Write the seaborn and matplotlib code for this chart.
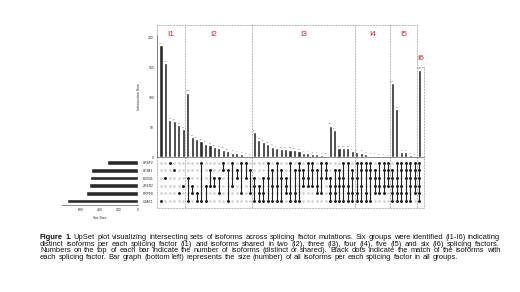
import numpy as np
import pandas as pd
import seaborn as sns
import matplotlib
matplotlib.use('Agg')
import matplotlib.pyplot as plt
from matplotlib.lines import Line2D

## sets (matrix rows, top to bottom) and their total sizes
set_names = ['SRSF2', 'SF3B1', 'DDX41', 'ZRSR2', 'PRPF8', 'U2AF1']
set_sizes = [327, 490, 497, 508, 542, 736]

## intersections, by degree, in drawing order
deg1_sets = ['U2AF1', 'DDX41', 'SRSF2', 'SF3B1', 'PRPF8', 'ZRSR2']
deg1_sizes = [187, 157, 62, 61, 54, 47]

deg2_sets = ['DDX41&U2AF1', 'ZRSR2&PRPF8', 'PRPF8&U2AF1', 'SRSF2&U2AF1', 'ZRSR2&U2AF1',
             'SF3B1&ZRSR2', 'DDX41&ZRSR2', 'DDX41&PRPF8', 'SRSF2&SF3B1', 'SF3B1&U2AF1',
             'SRSF2&ZRSR2', 'SF3B1&DDX41', 'SRSF2&PRPF8', 'SRSF2&DDX41', 'SF3B1&PRPF8']
deg2_sizes = [108, 34, 30, 27, 23, 20, 17, 15, 13, 10, 8, 7, 5, 3, 2]

deg3_sets = ['DDX41&ZRSR2&U2AF1', 'ZRSR2&PRPF8&U2AF1', 'DDX41&PRPF8&U2AF1', 'SRSF2&DDX41&U2AF1',
             'SF3B1&ZRSR2&U2AF1', 'SRSF2&ZRSR2&U2AF1', 'SF3B1&DDX41&U2AF1', 'DDX41&ZRSR2&PRPF8',
             'SRSF2&PRPF8&U2AF1', 'SF3B1&PRPF8&U2AF1', 'SRSF2&SF3B1&U2AF1', 'SF3B1&DDX41&ZRSR2',
             'SRSF2&DDX41&ZRSR2', 'SRSF2&SF3B1&ZRSR2', 'SF3B1&ZRSR2&PRPF8', 'SRSF2&DDX41&PRPF8',
             'SRSF2&SF3B1&DDX41']
deg3_sizes = [42, 29, 26, 22, 18, 15, 14, 14, 13, 12, 10, 7, 7, 6, 5, 4, 3]

deg4_sets = ['DDX41&ZRSR2&PRPF8&U2AF1', 'SF3B1&ZRSR2&PRPF8&U2AF1', 'SF3B1&DDX41&ZRSR2&U2AF1',
             'SRSF2&DDX41&ZRSR2&U2AF1', 'SRSF2&ZRSR2&PRPF8&U2AF1', 'SF3B1&DDX41&PRPF8&U2AF1',
             'SRSF2&DDX41&PRPF8&U2AF1', 'SRSF2&SF3B1&ZRSR2&U2AF1', 'SRSF2&SF3B1&PRPF8&U2AF1',
             'SRSF2&SF3B1&DDX41&U2AF1', 'SF3B1&DDX41&ZRSR2&PRPF8', 'SRSF2&DDX41&ZRSR2&PRPF8',
             'SRSF2&SF3B1&ZRSR2&PRPF8', 'SRSF2&SF3B1&DDX41&ZRSR2']
deg4_sizes = [53, 45, 16, 16, 16, 11, 9, 8, 5, 3, 3, 2, 2, 1]

deg5_sets = ['SF3B1&DDX41&ZRSR2&PRPF8&U2AF1', 'SRSF2&DDX41&ZRSR2&PRPF8&U2AF1',
             'SRSF2&SF3B1&ZRSR2&PRPF8&U2AF1', 'SRSF2&SF3B1&DDX41&PRPF8&U2AF1',
             'SRSF2&SF3B1&DDX41&ZRSR2&U2AF1', 'SRSF2&SF3B1&DDX41&ZRSR2&PRPF8']
deg5_sizes = [124, 80, 9, 9, 4, 2]

deg6_sets = ['SRSF2&SF3B1&DDX41&ZRSR2&PRPF8&U2AF1']
deg6_sizes = [146]

## annotated groups (number of columns in each dotted box)
group_labels = ['I1', 'I2', 'I3', 'I4', 'I5', 'I6']
group_widths = [6, 15, 23, 8, 6, 1]

caption_lines = [
    'Figure 1. UpSet plot visualizing intersecting sets of isoforms across splicing factor mutations. Six groups were identified (I1-I6) indicating',
    'distinct isoforms per each splicing factor (I1) and isoforms shared in two (I2), three (I3), four (I4), five (I5) and six (I6) splicing factors.',
    'Numbers on the top of each bar indicate the number of isoforms (distinct or shared). Black dots indicate the match of the isoforms with',
    'each splicing factor. Bar graph (bottom left) represents the size (number) of all isoforms per each splicing factor in all groups.',
]

combos = deg1_sets + deg2_sets + deg3_sets + deg4_sets + deg5_sets + deg6_sets
sizes = deg1_sizes + deg2_sizes + deg3_sizes + deg4_sizes + deg5_sizes + deg6_sizes
df = pd.DataFrame({'col': range(len(combos)), 'combo': combos, 'size': sizes})

sns.set_style('white')
plt.rcParams['font.family'] = ['Liberation Sans', 'DejaVu Sans']

W, H = 520, 292
fig = plt.figure(figsize=(W / 100, H / 100), dpi=100)


def box(l, t, r, b):
    return [l / W, 1 - b / H, (r - l) / W, (b - t) / H]


def pline(x0, y0, x1, y1):
    fig.add_artist(Line2D([x0 / W, x1 / W], [1 - y0 / H, 1 - y1 / H], transform=fig.transFigure,
                          ls=(0, (1, 1.2)), lw=0.5, color='#666666'))


col_x0, col_step = 161, 4.45
xlim = ((157 - col_x0) / col_step, (424 - col_x0) / col_step)
dark = '#2b2b2b'
tick_fs = 2.4

# intersection size bars
ax_bar = fig.add_axes(box(157, 35, 424, 157.3))
sns.barplot(data=df, x='col', y='size', color=dark, saturation=1, width=0.7, ax=ax_bar)
ax_bar.set_xlim(*xlim)
ax_bar.set_ylim(0, 204)
ax_bar.set_xticks([])
ax_bar.set_xlabel('')
ax_bar.set_yticks([0, 50, 100, 150, 200])
ax_bar.tick_params(axis='y', labelsize=tick_fs, length=1.2, width=0.4, pad=1)
ax_bar.set_ylabel('Intersection Size', fontsize=2.6, labelpad=5)
for s in ['top', 'right']:
    ax_bar.spines[s].set_visible(False)
for s in ['left', 'bottom']:
    ax_bar.spines[s].set_linewidth(0.4)
    ax_bar.spines[s].set_color('#333333')
for i, v in enumerate(sizes):
    ax_bar.text(i, v + 2, str(v), ha='center', va='bottom', fontsize=1.7, color='#555555')

# matrix of dots
row_of = {n: i for i, n in enumerate(set_names)}
grid = pd.DataFrame([(c, r) for c in range(len(combos)) for r in range(len(set_names))],
                    columns=['col', 'row'])
on = pd.DataFrame([(c, row_of[n]) for c, cb in enumerate(combos) for n in cb.split('&')],
                  columns=['col', 'row'])
ax_mat = fig.add_axes(box(157, 158.5, 424, 205))
sns.scatterplot(data=grid, x='col', y='row', color='#d0d0d0', s=3.6, linewidth=0, ax=ax_mat, legend=False)
for c, g in on.groupby('col'):
    if len(g) > 1:
        ax_mat.vlines(c, g['row'].min(), g['row'].max(), color='#222222', lw=0.8)
sns.scatterplot(data=on, x='col', y='row', color='#111111', s=4.2, linewidth=0, ax=ax_mat, legend=False)
ax_mat.set_xlim(*xlim)
ax_mat.set_ylim(5.52, -0.55)
ax_mat.set_xticks([])
ax_mat.set_yticks(range(len(set_names)))
ax_mat.set_yticklabels(set_names)
ax_mat.tick_params(axis='y', labelsize=tick_fs, length=0, pad=2.5)
ax_mat.set_xlabel('')
ax_mat.set_ylabel('')
for s in ax_mat.spines.values():
    s.set_visible(False)

# set size bars
ax_set = fig.add_axes(box(62, 158.5, 138.3, 205))
sns.barplot(x=set_sizes, y=set_names, orient='h', color=dark, saturation=1, width=0.58, ax=ax_set)
ax_set.set_xlim(790, 0)
ax_set.set_ylim(5.52, -0.55)
ax_set.set_yticks([])
ax_set.set_ylabel('')
ax_set.set_xticks([600, 400, 200, 0])
ax_set.tick_params(axis='x', labelsize=tick_fs, length=1.2, width=0.4, pad=1)
ax_set.set_xlabel('Set Size', fontsize=2.6, labelpad=3)
for s in ['top', 'right', 'left']:
    ax_set.spines[s].set_visible(False)
ax_set.spines['bottom'].set_linewidth(0.4)
ax_set.spines['bottom'].set_color('#333333')

# dotted group boxes and red labels
edges = [157] + [col_x0 + col_step * (e - 0.5) for e in np.cumsum(group_widths)]
edges[-1] = 424
top, bottom, top6 = 25, 207.7, 67
for x in edges[:-2]:
    pline(x, top, x, bottom)
pline(edges[-2], top, edges[-2], bottom)
pline(edges[-1], top6, edges[-1], bottom)
pline(edges[0], top, edges[-2], top)
pline(edges[-2], top6, edges[-1], top6)
pline(edges[0], bottom, edges[-1], bottom)
for i, lab in enumerate(group_labels):
    cx = (edges[i] + edges[i + 1]) / 2
    cy = 35 if i < 5 else 59
    if i == 1:
        cx -= 5
    fig.text(cx / W, 1 - cy / H, lab, color='#cc2b36', fontsize=6, ha='center', va='center')

# caption, justified like the original figure
cap_fs = 5.45
renderer = fig.canvas.get_renderer()
x_left, x_right = 40, 500
line_y = [237.7, 244.2, 250.7, 257.1]
for li, line in enumerate(caption_lines):
    words = line.split(' ')
    texts = []
    for wi, w in enumerate(words):
        bold = (li == 0 and wi < 2)
        t = fig.text(0, 1 - line_y[li] / H, w, fontsize=cap_fs, va='center', ha='left',
                     fontweight='bold' if bold else 'normal', color='#111111')
        texts.append(t)
    widths = [t.get_window_extent(renderer).width for t in texts]
    if li < len(caption_lines) - 1:
        gap = (x_right - x_left - sum(widths)) / (len(words) - 1)
    else:
        gap = cap_fs * 100 / 72 * 0.28
    x = x_left
    for t, wd in zip(texts, widths):
        t.set_x(x / W)
        x += wd + gap

plt.savefig('out.png', dpi=100)
plt.close()
